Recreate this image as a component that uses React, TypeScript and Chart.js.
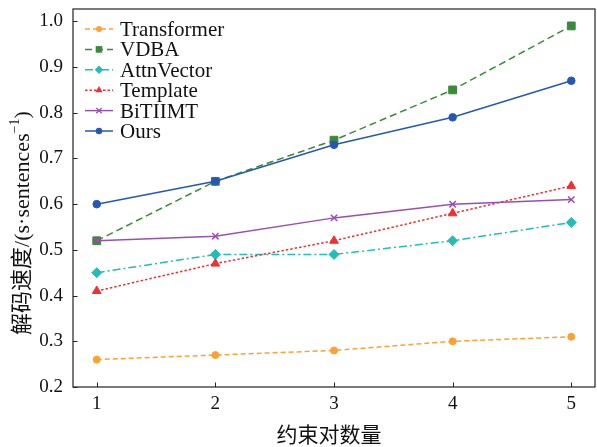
import React, { useEffect, useRef } from "react";
import { Chart, registerables } from "chart.js";

Chart.register(...registerables);

// ---- data ----
const constraintCounts = [1, 2, 3, 4, 5];
const transformerSpeed = [0.26, 0.27, 0.28, 0.3, 0.31];
const vdbaSpeed = [0.52, 0.65, 0.74, 0.85, 0.99];
const attnVectorSpeed = [0.45, 0.49, 0.49, 0.52, 0.56];
const templateSpeed = [0.41, 0.47, 0.52, 0.58, 0.64];
const bitiimtSpeed = [0.52, 0.53, 0.57, 0.6, 0.61];
const oursSpeed = [0.6, 0.65, 0.73, 0.79, 0.87];
const seriesNames = ["Transformer", "VDBA", "AttnVector", "Template", "BiTIIMT", "Ours"];
const xTickValues = [1, 2, 3, 4, 5];
const yTickValues = [0.2, 0.3, 0.4, 0.5, 0.6, 0.7, 0.8, 0.9, 1.0];
const xAxisTitle = "约束对数量";
const yAxisTitleMain = "解码速度/(s·sentences";
const yAxisTitleSup = "−1";
const yAxisTitleEnd = ")";

const SERIF = '"Liberation Serif", "Times New Roman", "Noto Sans CJK SC", serif';

const seriesValues = [transformerSpeed, vdbaSpeed, attnVectorSpeed, templateSpeed, bitiimtSpeed, oursSpeed];
const seriesStyles = [
  { color: "#ffa033", dash: [5, 3], point: "circle", radius: 3.5 },
  { color: "#3a8a3a", dash: [7, 4], point: "rect", radius: 5.5 },
  { color: "#22bdb8", dash: [8, 3, 2, 3], point: "rectRot", radius: 5 },
  { color: "#f03030", dash: [2.5, 2], point: "triangle", radius: 5 },
  { color: "#9a4fae", dash: [], point: "crossRot", radius: 4.5 },
  { color: "#2558b5", dash: [], point: "circle", radius: 3.8 },
];

function drawPointLocal(ctx: CanvasRenderingContext2D, style: string, r: number, x: number, y: number) {
  ctx.beginPath();
  if (style === "circle") {
    ctx.arc(x, y, r, 0, Math.PI * 2);
    ctx.fill();
  } else if (style === "rect") {
    const s = Math.SQRT1_2 * r;
    ctx.rect(x - s, y - s, 2 * s, 2 * s);
    ctx.fill();
  } else if (style === "rectRot") {
    ctx.moveTo(x - r, y);
    ctx.lineTo(x, y - r);
    ctx.lineTo(x + r, y);
    ctx.lineTo(x, y + r);
    ctx.closePath();
    ctx.fill();
  } else if (style === "triangle") {
    const h = r * 1.5;
    ctx.moveTo(x, y - r);
    ctx.lineTo(x + h / Math.sqrt(3), y - r + h);
    ctx.lineTo(x - h / Math.sqrt(3), y - r + h);
    ctx.closePath();
    ctx.fill();
  } else if (style === "crossRot") {
    const d = r * Math.SQRT1_2;
    ctx.moveTo(x - d, y - d);
    ctx.lineTo(x + d, y + d);
    ctx.moveTo(x + d, y - d);
    ctx.lineTo(x - d, y + d);
    ctx.stroke();
  }
}

const decorPlugin = {
  id: "decor",
  afterDatasetsDraw(chart: any) {
    const { ctx, chartArea } = chart;
    const xs = chart.scales.x;
    const ys = chart.scales.y;
    ctx.save();
    // frame
    ctx.strokeStyle = "#222";
    ctx.lineWidth = 1.2;
    ctx.setLineDash([]);
    ctx.strokeRect(chartArea.left, chartArea.top, chartArea.right - chartArea.left, chartArea.bottom - chartArea.top);
    // inward ticks
    ctx.lineWidth = 1;
    ctx.beginPath();
    xTickValues.forEach((v) => {
      const px = Math.round(xs.getPixelForValue(v)) + 0.5;
      ctx.moveTo(px, chartArea.bottom);
      ctx.lineTo(px, chartArea.bottom - 4.5);
    });
    yTickValues.forEach((v) => {
      const py = Math.round(ys.getPixelForValue(v)) + 0.5;
      ctx.moveTo(chartArea.left, py);
      ctx.lineTo(chartArea.left + 4.5, py);
    });
    ctx.stroke();

    // legend
    const lx0 = 85;
    const lx1 = 113;
    const textX = 120;
    const rowY0 = 29;
    const rowStep = 20.4;
    seriesNames.forEach((name, i) => {
      const st = seriesStyles[i];
      const y = rowY0 + i * rowStep;
      ctx.save();
      ctx.strokeStyle = st.color;
      ctx.lineWidth = 1.5;
      ctx.setLineDash(st.dash);
      ctx.beginPath();
      ctx.moveTo(lx0, y);
      ctx.lineTo(lx1, y);
      ctx.stroke();
      ctx.setLineDash([]);
      ctx.fillStyle = st.color;
      ctx.strokeStyle = st.color;
      ctx.lineWidth = st.point === "crossRot" ? 1.3 : 1;
      drawPointLocal(ctx, st.point, st.radius * 0.85, (lx0 + lx1) / 2, y);
      ctx.fillStyle = "#111";
      ctx.font = `21px ${SERIF}`;
      ctx.textBaseline = "alphabetic";
      ctx.textAlign = "left";
      ctx.fillText(name, textX, y + 7);
      ctx.restore();
    });

    ctx.restore();
  },
  afterDraw(chart: any) {
    const { ctx } = chart;
    // x axis title
    ctx.save();
    ctx.fillStyle = "#111";
    ctx.font = `21px ${SERIF}`;
    ctx.textAlign = "center";
    ctx.textBaseline = "middle";
    ctx.fillText(xAxisTitle, 329, 436);
    ctx.restore();

    // y axis title (rotated, with superscript)
    ctx.save();
    const fs = 22;
    ctx.translate(23, 223);
    ctx.rotate(-Math.PI / 2);
    ctx.fillStyle = "#111";
    ctx.textBaseline = "middle";
    ctx.textAlign = "left";
    ctx.font = `${fs}px ${SERIF}`;
    const wMain = ctx.measureText(yAxisTitleMain).width;
    const wEnd = ctx.measureText(yAxisTitleEnd).width;
    const supFs = Math.round(fs * 0.65);
    ctx.font = `${supFs}px ${SERIF}`;
    const wSup = ctx.measureText(yAxisTitleSup).width;
    let x = -(wMain + wSup + wEnd) / 2;
    ctx.font = `${fs}px ${SERIF}`;
    ctx.fillText(yAxisTitleMain, x, 0);
    x += wMain;
    ctx.font = `${supFs}px ${SERIF}`;
    ctx.fillText(yAxisTitleSup, x, -fs * 0.33);
    x += wSup;
    ctx.font = `${fs}px ${SERIF}`;
    ctx.fillText(yAxisTitleEnd, x, 0);
    ctx.restore();
  },
};

export default function App() {
  const canvasRef = useRef<HTMLCanvasElement | null>(null);

  useEffect(() => {
    if (!canvasRef.current) return;
    const datasets = seriesNames.map((name, i) => {
      const st = seriesStyles[i];
      return {
        label: name,
        data: constraintCounts.map((c, j) => ({ x: c, y: seriesValues[i][j] })),
        borderColor: st.color,
        backgroundColor: st.color,
        borderWidth: 1.5,
        borderDash: st.dash,
        pointStyle: st.point,
        pointRadius: st.radius,
        pointBorderWidth: st.point === "crossRot" ? 1.5 : 1,
        pointBackgroundColor: st.color,
        pointBorderColor: st.color,
        fill: false,
        tension: 0,
        order: seriesNames.length - i,
      };
    });

    const chart = new Chart(canvasRef.current, {
      type: "line",
      data: { datasets: datasets as any },
      plugins: [decorPlugin as any],
      options: {
        responsive: false,
        animation: false,
        events: [],
        layout: { autoPadding: false, padding: { top: 9, right: 2, left: 0, bottom: 0 } },
        plugins: { legend: { display: false }, tooltip: { enabled: false } },
        scales: {
          x: {
            type: "linear",
            min: 0.8,
            max: 5.2,
            grid: { display: false, drawTicks: false },
            border: { display: false },
            afterBuildTicks: (scale: any) => {
              scale.ticks = xTickValues.map((v) => ({ value: v }));
            },
            afterFit: (scale: any) => {
              scale.height = 60;
              scale.paddingLeft = 0;
              scale.paddingRight = 0;
              scale.paddingTop = 0;
              scale.paddingBottom = 0;
            },
            ticks: {
              color: "#111",
              font: { family: SERIF, size: 19 },
              padding: 6,
              maxRotation: 0,
              autoSkip: false,
              callback: (v: any) => String(v),
            },
            title: { display: false },
          },
          y: {
            type: "linear",
            min: 0.2,
            max: 1.027,
            grid: { display: false, drawTicks: false },
            border: { display: false },
            afterBuildTicks: (scale: any) => {
              scale.ticks = yTickValues.map((v) => ({ value: v }));
            },
            afterFit: (scale: any) => {
              scale.width = 73;
              scale.paddingLeft = 0;
              scale.paddingRight = 0;
              scale.paddingTop = 0;
              scale.paddingBottom = 0;
            },
            ticks: {
              color: "#111",
              font: { family: SERIF, size: 19 },
              padding: 10,
              autoSkip: false,
              callback: (v: any) => Number(v).toFixed(1),
            },
          },
        },
      } as any,
    });
    return () => chart.destroy();
  }, []);

  return (
    <div style={{ position: "absolute", left: 0, top: 0, width: 597, height: 447, background: "#fff" }}>
      <canvas ref={canvasRef} width={597} height={447} style={{ display: "block", width: 597, height: 447 }} />
    </div>
  );
}
